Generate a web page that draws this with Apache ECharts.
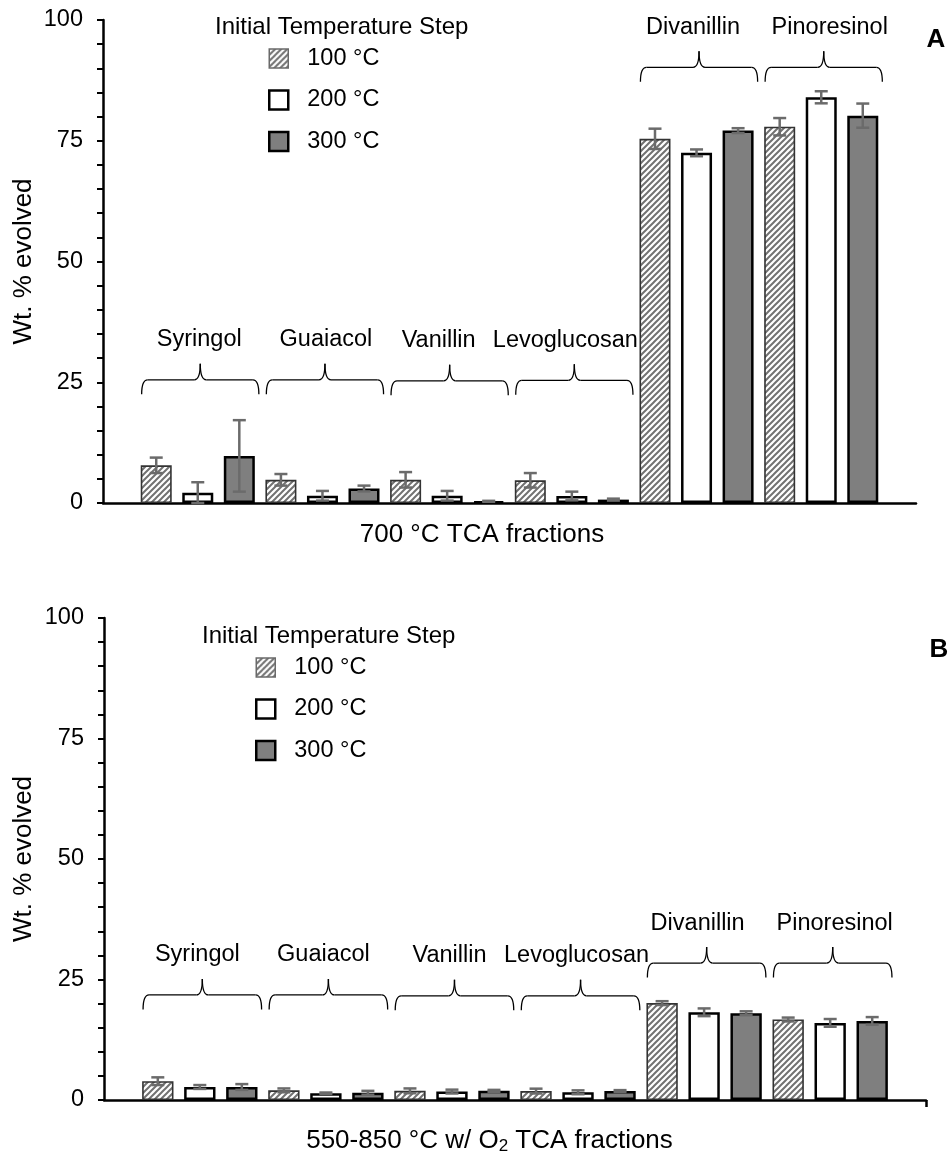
<!DOCTYPE html>
<html>
<head>
<meta charset="utf-8">
<script src="https://cdn.jsdelivr.net/npm/echarts@6/dist/echarts.min.js"></script>
<style>
html,body{margin:0;padding:0;background:#fff;}
#chart{width:951px;height:1155px;}
</style>
</head>
<body>
<div id="chart"></div>
<script>
// ---------------- DATA ----------------
const categories = ['Syringol', 'Guaiacol', 'Vanillin', 'Levoglucosan', 'Divanillin', 'Pinoresinol'];
const seriesNames = ['100 °C', '200 °C', '300 °C'];
const yTicks = [0, 25, 50, 75, 100];

// Panel A: 700 °C TCA fractions
const a100 = [7.8, 4.8, 4.8, 4.7, 75.4, 77.9];
const a100Err = [1.6, 1.2, 1.6, 1.5, 2.1, 1.8];
const a200 = [2.1, 1.5, 1.5, 1.45, 72.5, 84.0];
const a200Err = [2.2, 1.0, 1.0, 0.9, 0.7, 1.25];
const a300 = [9.75, 3.0, 0.35, 0.7, 77.1, 80.2];
const a300Err = [7.4, 0.6, 0.1, 0.2, 0.5, 2.5];

// Panel B: 550-850 °C w/ O2 TCA fractions
const b100 = [3.9, 2.0, 1.9, 1.85, 20.1, 16.7];
const b100Err = [0.8, 0.4, 0.5, 0.5, 0.4, 0.4];
const b200 = [2.7, 1.4, 1.75, 1.6, 18.2, 16.0];
const b200Err = [0.4, 0.15, 0.4, 0.4, 0.8, 0.8];
const b300 = [2.7, 1.5, 1.9, 1.85, 18.0, 16.4];
const b300Err = [0.6, 0.4, 0.2, 0.2, 0.4, 0.8];

// bracket base (lower end of brace) in data units, per group
const aBracketBase = [22.5, 22.5, 22.3, 22.4, 87.2, 87.2];
const bBracketBase = [18.8, 18.8, 18.6, 18.6, 25.4, 25.4];

// ---------------- STYLE / LAYOUT ----------------
const FONT = '"Liberation Sans", Arial, Helvetica, sans-serif';
const X_MIN = -0.76, X_MAX = 5.76;
const CAT_GAP = 0.085, BAR_GAP = 0.34;
const barW = (1 - CAT_GAP) / (3 + 2 * BAR_GAP);
const pitch = barW * (1 + BAR_GAP);
const aLabelDx = [-1, 1, -11, -9, -6, 6];
const bLabelDx = [-5, -5, -5, -4, -9, 2];

function hatchCanvas() {
  const c = document.createElement('canvas');
  const s = 6;
  c.width = s; c.height = s;
  const ctx = c.getContext('2d');
  ctx.fillStyle = '#ffffff';
  ctx.fillRect(0, 0, s, s);
  ctx.strokeStyle = '#727272';
  ctx.lineWidth = 2;
  ctx.beginPath();
  ctx.moveTo(-1, s + 1); ctx.lineTo(s + 1, -1);
  ctx.moveTo(-1, 1); ctx.lineTo(1, -1);
  ctx.moveTo(s - 1, s + 1); ctx.lineTo(s + 1, s - 1);
  ctx.stroke();
  return c;
}
const hatch = { image: hatchCanvas(), repeat: 'repeat' };

const barStyles = [
  { color: hatch, borderColor: '#333333', borderWidth: 1.6 },
  { color: '#ffffff', borderColor: '#000000', borderWidth: 2.5 },
  { color: '#7f7f7f', borderColor: '#000000', borderWidth: 2.5 }
];
const legendStyles = [
  { color: hatch, borderColor: '#6a6a6a', borderWidth: 1.5 },
  { color: '#ffffff', borderColor: '#000000', borderWidth: 2.5 },
  { color: '#7f7f7f', borderColor: '#000000', borderWidth: 2.5 }
];

function pairs(arr) { return arr.map((v, i) => [i, v]); }

function errData(vals, errs) {
  const out = [];
  vals.forEach((v, s) => {
    v.forEach((y, g) => out.push([g, y, errs[s][g], (s - 1) * pitch]));
  });
  return out;
}

function renderErr(params, api) {
  const x = api.value(0) + api.value(3);
  const y = api.value(1), e = api.value(2);
  const hi = api.coord([x, y + e]);
  const lo = api.coord([x, Math.max(0, y - e)]);
  const st = { stroke: '#6b6b6b', lineWidth: 2.5 };
  const cw = 6.5;
  return {
    type: 'group',
    children: [
      { type: 'line', shape: { x1: hi[0], y1: hi[1], x2: lo[0], y2: lo[1] }, style: st },
      { type: 'line', shape: { x1: hi[0] - cw, y1: hi[1], x2: hi[0] + cw, y2: hi[1] }, style: st },
      { type: 'line', shape: { x1: lo[0] - cw, y1: lo[1], x2: lo[0] + cw, y2: lo[1] }, style: st }
    ]
  };
}

function makeBracketRender(labelDx) {
  return function (params, api) {
    const g = api.value(0);
    const base = api.value(1);
    const c = api.coord([g + 0.02, base]);
    const half = api.size([0.94, 0])[0] / 2;
    const xL = c[0] - half, xR = c[0] + half, xc = c[0];
    const yE = c[1], yH = yE - 14.5, yP = yH - 16;
    const st = { stroke: '#000', lineWidth: 1.3, fill: null };
    const r = 6;
    return {
      type: 'group',
      children: [
        { type: 'bezierCurve', shape: { x1: xL, y1: yE, cpx1: xL, cpy1: yH, x2: xL + r, y2: yH }, style: st },
        { type: 'line', shape: { x1: xL + r, y1: yH, x2: xc - r, y2: yH }, style: st },
        { type: 'bezierCurve', shape: { x1: xc - r, y1: yH, cpx1: xc, cpy1: yH, x2: xc, y2: yP }, style: st },
        { type: 'bezierCurve', shape: { x1: xc, y1: yP, cpx1: xc, cpy1: yH, x2: xc + r, y2: yH }, style: st },
        { type: 'line', shape: { x1: xc + r, y1: yH, x2: xR - r, y2: yH }, style: st },
        { type: 'bezierCurve', shape: { x1: xR - r, y1: yH, cpx1: xR, cpy1: yH, x2: xR, y2: yE }, style: st },
        {
          type: 'text', x: xc + labelDx[params.dataIndex], y: yP - 24,
          style: {
            text: categories[params.dataIndex], fill: '#000',
            font: '23.5px ' + FONT, align: 'center', verticalAlign: 'middle'
          }
        }
      ]
    };
  };
}

function xAxisDef(gridIndex, endTick) {
  return {
    type: 'value', gridIndex: gridIndex, min: X_MIN, max: X_MAX,
    axisLine: { show: true, onZero: false, lineStyle: { color: '#000', width: 2.5 } },
    axisTick: endTick ? { show: true, customValues: [X_MAX], length: 7, lineStyle: { color: '#000', width: 2.5 } } : { show: false },
    axisLabel: { show: false },
    splitLine: { show: false }
  };
}
function yAxisDef(gridIndex) {
  return {
    type: 'value', gridIndex: gridIndex, min: yTicks[0], max: yTicks[yTicks.length - 1], interval: 25,
    axisLine: { show: true, onZero: false, lineStyle: { color: '#000', width: 2.5 } },
    axisTick: { show: true, length: 6, lineStyle: { color: '#000', width: 2 } },
    minorTick: { show: true, splitNumber: 5, length: 6, lineStyle: { color: '#000', width: 2 } },
    axisLabel: { color: '#000', fontSize: 23.5, fontFamily: FONT, margin: 20 },
    splitLine: { show: false }
  };
}

const aVals = [a100, a200, a300], aErrs = [a100Err, a200Err, a300Err];
const bVals = [b100, b200, b300], bErrs = [b100Err, b200Err, b300Err];

const series = [];
[[aVals, 0], [bVals, 1]].forEach(([vals, gi]) => {
  vals.forEach((v, s) => {
    series.push({
      type: 'bar', name: seriesNames[s], xAxisIndex: gi, yAxisIndex: gi,
      data: pairs(v), barCategoryGap: (CAT_GAP * 100) + '%', barGap: (BAR_GAP * 100) + '%',
      itemStyle: barStyles[s], emphasis: { disabled: true }, z: 2
    });
  });
});
series.push({ type: 'custom', xAxisIndex: 0, yAxisIndex: 0, data: errData(aVals, aErrs), renderItem: renderErr, z: 5, silent: true });
series.push({ type: 'custom', xAxisIndex: 1, yAxisIndex: 1, data: errData(bVals, bErrs), renderItem: renderErr, z: 5, silent: true });
series.push({ type: 'custom', xAxisIndex: 0, yAxisIndex: 0, data: pairs(aBracketBase), renderItem: makeBracketRender(aLabelDx), z: 6, silent: true, clip: false });
series.push({ type: 'custom', xAxisIndex: 1, yAxisIndex: 1, data: pairs(bBracketBase), renderItem: makeBracketRender(bLabelDx), z: 6, silent: true, clip: false });

function legendDef(left, top, padLeft) {
  return {
    orient: 'vertical', left: left, top: top, itemWidth: 19, itemHeight: 19, itemGap: 17.5,
    selectedMode: false, icon: 'rect',
    textStyle: { fontSize: 23.5, fontFamily: FONT, color: '#000', padding: [0, 0, 0, padLeft] },
    data: seriesNames.map((n, i) => ({ name: n, itemStyle: legendStyles[i] }))
  };
}

function txt(x, y, text, size, extra) {
  return Object.assign({
    type: 'text', x: x, y: y, silent: true,
    style: Object.assign({
      text: text, fill: '#000', font: size + 'px ' + FONT,
      align: 'center', verticalAlign: 'middle'
    }, (extra && extra.style) || {})
  }, extra && extra.el ? extra.el : {});
}

const option = {
  animation: false,
  backgroundColor: '#fff',
  grid: [
    { left: 103, right: 35, top: 20, height: 483 },
    { left: 104, right: 25, top: 618, height: 482 }
  ],
  xAxis: [xAxisDef(0, false), xAxisDef(1, true)],
  yAxis: [yAxisDef(0), yAxisDef(1)],
  legend: [legendDef(263, 41.5, 14), legendDef(250, 650.5, 14)],
  series: series,
  graphic: [
    txt(215, 27, 'Initial Temperature Step', 24, { style: { align: 'left' } }),
    txt(202, 636, 'Initial Temperature Step', 24, { style: { align: 'left' } }),
    txt(482, 535, '700 °C TCA fractions', 26),
    {
      type: 'text', x: 489.5, y: 1141, silent: true,
      style: {
        text: '550-850 °C w/ O{sub|2} TCA fractions', fill: '#000', font: '26px ' + FONT,
        align: 'center', verticalAlign: 'middle',
        rich: { sub: { fontSize: 17, fontFamily: FONT, verticalAlign: 'bottom', padding: [10, 0, 0, 0] } }
      }
    },
    txt(24, 261.5, 'Wt. % evolved', 26, { el: { rotation: Math.PI / 2 } }),
    txt(24, 859, 'Wt. % evolved', 26, { el: { rotation: Math.PI / 2 } }),
    txt(936, 40, 'A', 26, { style: { font: 'bold 26px ' + FONT } }),
    txt(939, 650, 'B', 26, { style: { font: 'bold 26px ' + FONT } })
  ]
};

const chart = echarts.init(document.getElementById('chart'), null, { renderer: 'canvas' });
chart.setOption(option);
</script>
</body>
</html>
